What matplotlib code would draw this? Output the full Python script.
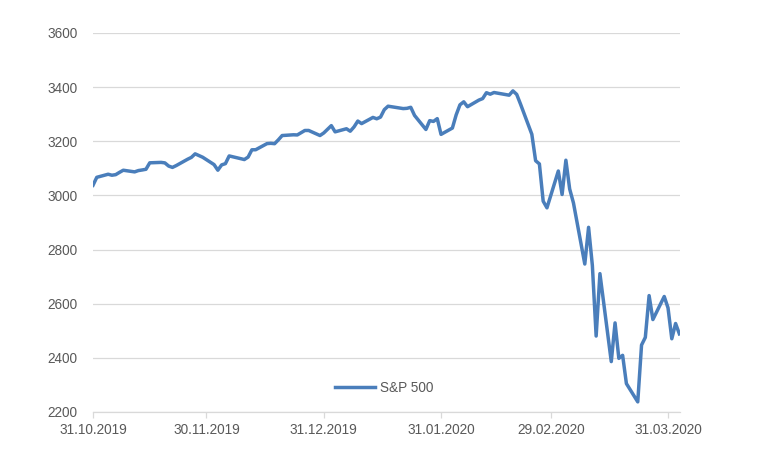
"""S&P 500 daily close, 31.10.2019 - 03.04.2020."""

import matplotlib

matplotlib.use("Agg")
import matplotlib.dates as mdates
import matplotlib.pyplot as plt
import pandas as pd

plt.rcParams["font.family"] = ["Liberation Sans", "DejaVu Sans"]

HOLIDAYS = ["2019-11-28", "2019-12-25", "2020-01-01", "2020-01-20", "2020-02-17"]
TRADING_DAYS = pd.bdate_range("2019-10-31", "2020-04-03", freq="C", holidays=HOLIDAYS)

SP500 = [
    3037.56,
    # Nov 2019
    3066.91, 3078.27, 3074.62, 3076.78, 3085.18, 3093.08, 3087.01, 3091.84,
    3094.04, 3096.63, 3120.46, 3122.03, 3120.18, 3108.46, 3103.54, 3110.29,
    3133.64, 3140.52, 3153.63, 3140.98,
    # Dec 2019
    3113.87, 3093.20, 3112.76, 3117.43, 3145.91, 3135.96, 3132.52, 3141.63,
    3168.57, 3168.80, 3191.45, 3192.52, 3191.14, 3205.37, 3221.22, 3224.01,
    3223.38, 3239.91, 3240.02, 3221.29, 3230.78,
    # Jan 2020
    3257.85, 3234.85, 3246.28, 3237.18, 3253.05, 3274.70, 3265.35, 3288.13,
    3283.15, 3289.29, 3316.81, 3329.62, 3320.79, 3321.75, 3325.54, 3295.47,
    3243.63, 3276.24, 3273.40, 3283.66, 3225.52,
    # Feb 2020
    3248.92, 3297.59, 3334.69, 3345.78, 3327.71, 3352.09, 3357.75, 3379.45,
    3373.94, 3380.16, 3370.29, 3386.15, 3373.23, 3337.75, 3225.89, 3128.21,
    3116.39, 2978.76, 2954.22,
    # Mar 2020
    3090.23, 3003.37, 3130.12, 3023.94, 2972.37, 2746.56, 2882.23, 2741.38,
    2480.64, 2711.02, 2386.13, 2529.19, 2398.10, 2409.39, 2304.92, 2237.40,
    2447.33, 2475.56, 2630.07, 2541.47, 2626.65, 2584.59,
    # Apr 2020
    2470.50, 2526.90, 2488.65,
]

TICK_DATES = ["2019-10-31", "2019-11-30", "2019-12-31", "2020-01-31", "2020-02-29", "2020-03-31"]
Y_TICKS = [2200, 2400, 2600, 2800, 3000, 3200, 3400, 3600]

LINE_COLOR = "#4a7ebb"
TEXT_COLOR = "#595959"
GRID_COLOR = "#d9d9d9"
FONT_SIZE = 9.8


def main() -> None:
    assert len(TRADING_DAYS) == len(SP500)
    fig = plt.figure(figsize=(7.77, 4.63), dpi=100)
    ax = fig.add_axes([93 / 777, 1 - 412 / 463, 587 / 777, 379 / 463])

    ax.plot(TRADING_DAYS, SP500, color=LINE_COLOR, linewidth=2.5,
            solid_joinstyle="round", label="S&P 500")

    ax.set_ylim(2200, 3600)
    ax.set_yticks(Y_TICKS)
    ax.set_xlim(pd.Timestamp("2019-10-31"), pd.Timestamp("2020-04-03 04:00"))
    ax.set_xticks(pd.to_datetime(TICK_DATES))
    ax.xaxis.set_major_formatter(mdates.DateFormatter("%d.%m.%Y"))

    ax.grid(axis="y", color=GRID_COLOR, linewidth=0.9)
    ax.set_axisbelow(True)
    for side in ("left", "right", "top"):
        ax.spines[side].set_visible(False)
    ax.spines["bottom"].set_color(GRID_COLOR)
    ax.spines["bottom"].set_linewidth(0.9)

    ax.tick_params(axis="y", length=0, pad=11, labelsize=FONT_SIZE, labelcolor=TEXT_COLOR)
    ax.tick_params(axis="x", length=4, width=0.9, color=GRID_COLOR,
                   pad=4, labelsize=FONT_SIZE, labelcolor=TEXT_COLOR)

    ax.legend(loc="center", bbox_to_anchor=(384 / 777, 1 - 388 / 463),
              bbox_transform=fig.transFigure, frameon=False,
              fontsize=FONT_SIZE, labelcolor=TEXT_COLOR, handlelength=3.0,
              handletextpad=0.35)

    fig.savefig("out.png", dpi=100)
    plt.close(fig)


if __name__ == "__main__":
    main()
